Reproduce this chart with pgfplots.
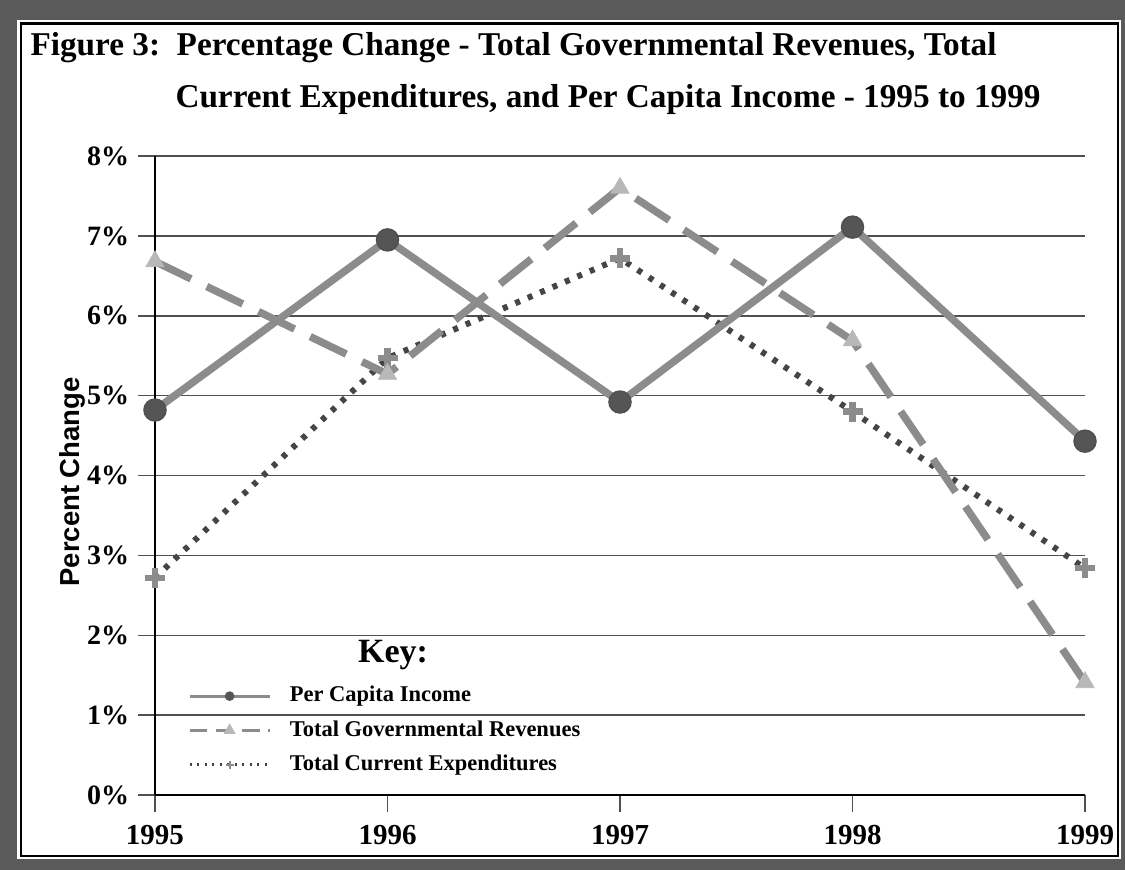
\documentclass[border=0pt]{standalone}
\usepackage{pgfplots}
\pgfplotsset{compat=1.18}
\usepackage{fontspec}
\setmainfont{Liberation Serif}
\newfontfamily\arialfont{Liberation Sans}
\definecolor{framec}{HTML}{5A5A5A}
\definecolor{lineg}{HTML}{8C8C8C}
\definecolor{darkm}{HTML}{555555}
\definecolor{dotc}{HTML}{454545}
\definecolor{lightm}{HTML}{B8B8B8}
\definecolor{gridg}{HTML}{505050}
\begin{document}
\begin{tikzpicture}
\fill[framec] (0pt,0pt) rectangle (450pt,-348pt);
\fill[white] (6.8pt,-8pt) rectangle (448.4pt,-343.6pt);
\draw[black, line width=1.1pt] (8.4pt,-9.4pt) rectangle (447.2pt,-342.4pt);
\node[anchor=west, inner sep=0pt, font=\bfseries\fontsize{13.3}{16}\selectfont] at (12pt,-19.2pt) {Figure 3:\ \ Percentage Change - Total Governmental Revenues, Total};
\node[anchor=west, inner sep=0pt, font=\bfseries\fontsize{13.3}{16}\selectfont] at (70pt,-40pt) {Current Expenditures, and Per Capita Income - 1995 to 1999};
\begin{axis}[
  at={(62pt,-318pt)}, anchor=south west, scale only axis,
  width=372pt, height=255.6pt,
  xmin=1995, xmax=1999, ymin=0, ymax=8,
  clip=false,
  axis lines=left, axis line style={-, draw=black, line width=0.5pt},
  xtick={1995,1996,1997,1998,1999},
  ytick={0,1,2,3,4,5,6,7,8},
  /pgf/number format/1000 sep={},
  /pgf/number format/assume math mode=true,
  yticklabel={\pgfmathprintnumber{\tick}\%},
  xticklabel style={font=\bfseries\fontsize{11.6}{13}\selectfont, yshift=-1.8pt},
  yticklabel style={font=\bfseries\fontsize{11.2}{13}\selectfont},
  ymajorgrids, grid style={gridg, line width=0.6pt},
  tick align=outside, major tick length=6.8pt,
  tick style={gridg, line width=0.6pt},
  ylabel={\arialfont\bfseries\fontsize{11}{12}\selectfont Percent Change},
  ylabel style={at={(axis description cs:-0.089,0.49)}, anchor=center},
  legend columns=1,
  legend cell align=left,
  legend image code/.code={\draw[mark repeat=2,mark phase=2] plot coordinates {(0pt,0pt) (16pt,0pt) (32pt,0pt)};},
  legend style={at={(axis description cs:0.027,0.18)}, anchor=north west, draw=none, fill=none,
    font=\bfseries\fontsize{9}{10}\selectfont, column sep=7.5pt, row sep=5.2pt,
    nodes={inner sep=0pt, text height=6.5pt, text depth=2pt}},
]
\addplot[forget plot, color=dotc, line width=2.4pt, dash pattern=on 2pt off 3.4pt,
  mark=+, mark size=4pt, mark options={solid, color=lineg, line width=2.6pt}]
  coordinates {(1995,2.72) (1996,5.47) (1997,6.72) (1998,4.80) (1999,2.84)};
\addplot[forget plot, color=lineg, line width=3pt, dash pattern=on 16pt off 7pt,
  mark=triangle*, mark size=4.2pt, mark options={solid, fill=lightm, draw=lightm, line width=0.3pt}]
  coordinates {(1995,6.68) (1996,5.27) (1997,7.60) (1998,5.69) (1999,1.41)};
\addplot[forget plot, color=lineg, line width=3pt,
  mark=*, mark size=4.4pt, mark options={solid, fill=darkm, draw=gridg, line width=0.6pt}]
  coordinates {(1995,4.82) (1996,6.95) (1997,4.92) (1998,7.11) (1999,4.43)};
\addlegendimage{color=lineg, line width=1.2pt, mark=*, mark size=1.3pt, mark options={fill=darkm, draw=darkm}}
\addlegendentry{Per Capita Income}
\addlegendimage{color=lineg, line width=1.2pt, dash pattern=on 7pt off 3.5pt, mark=triangle*, mark size=1.6pt, mark options={solid, fill=lightm, draw=lightm}}
\addlegendentry{Total Governmental Revenues}
\addlegendimage{color=dotc, line width=1.2pt, dash pattern=on 0.9pt off 2.1pt, mark=+, mark size=1.6pt, mark options={solid, color=lineg, line width=0.8pt}}
\addlegendentry{Total Current Expenditures}
\node[font=\bfseries\fontsize{13.6}{16}\selectfont] at (axis description cs:0.256,0.219) {Key:};
\end{axis}
\end{tikzpicture}
\end{document}
